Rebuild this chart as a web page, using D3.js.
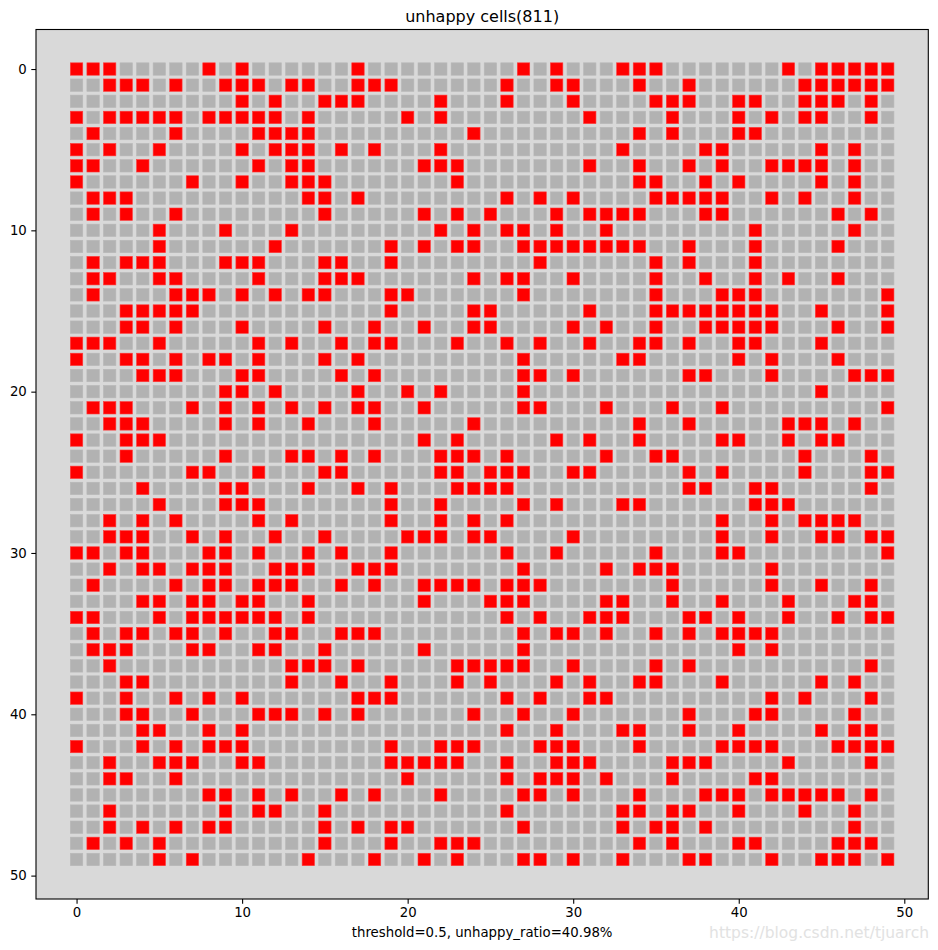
<!DOCTYPE html>
<html>
<head>
<meta charset="utf-8">
<script src="https://cdn.jsdelivr.net/npm/d3@7"></script>
<style>
  html, body { margin: 0; padding: 0; background: #fff; }
  svg text { font-family: "DejaVu Sans", sans-serif; }
</style>
</head>
<body>
<div id="chart"></div>
<script>
// ---- data ----
const gridSize = 50;
const titleText = "unhappy cells(811)";
const xLabelText = "threshold=0.5, unhappy_ratio=40.98%";
const tickValues = [0, 10, 20, 30, 40, 50];
// column indices of unhappy (red) cells, one list per row (row 0 at top)
const unhappyRows = [
  [0,1,2,8,10,17,27,29,33,34,35,43,45,46,47,48,49],
  [2,3,4,6,9,10,11,13,14,17,18,19,26,29,30,34,37,44,45,46,47,48,49],
  [10,12,15,16,17,22,26,30,35,36,37,40,41,44,45,46,48],
  [0,2,3,4,5,6,8,9,10,11,12,14,20,22,31,36,40,42,44,45,48],
  [1,6,11,12,13,14,24,34,36,40,41],
  [0,2,5,10,12,13,14,16,18,22,33,38,39,45,47],
  [0,1,4,11,13,14,21,22,23,31,34,37,39,42,43,44,45,47],
  [0,7,10,13,14,15,23,34,35,38,40,45,47],
  [1,2,3,14,15,17,26,28,30,35,36,37,38,39,42,44,47],
  [1,3,6,15,21,23,25,29,31,32,33,34,38,39,46,48],
  [5,9,13,22,24,26,27,29,32,41,47],
  [5,12,19,21,23,24,27,28,29,30,31,32,33,34,37,41,46],
  [1,3,4,5,9,10,11,15,16,19,28,35,37,41],
  [1,2,5,6,11,15,16,17,24,26,27,30,35,38,41,43,46],
  [1,6,7,8,10,12,14,15,19,20,27,35,39,40,41,49],
  [3,4,5,6,7,19,24,25,31,35,36,37,38,39,40,41,42,45,49],
  [3,4,6,10,15,18,21,24,25,30,32,35,38,39,40,41,42,46,49],
  [0,1,2,5,11,13,16,18,19,23,26,28,31,34,35,37,40,41,45],
  [0,3,4,6,8,9,11,15,17,27,33,34,40,42,46],
  [4,5,6,10,11,16,18,27,28,30,37,38,42,47,48,49],
  [9,10,12,17,20,22,27,45],
  [1,2,3,7,9,11,13,15,17,18,21,27,28,32,36,39,49],
  [2,3,4,9,11,14,18,24,34,37,43,44,45,47],
  [0,3,4,5,21,23,29,31,34,39,40,43,45,46],
  [3,9,13,14,16,18,22,23,24,26,32,35,36,44,48],
  [0,7,8,11,15,16,22,23,25,26,27,30,31,37,39,44,48,49],
  [4,9,10,14,17,19,23,24,25,26,37,38,41,42,48],
  [5,9,10,11,19,22,27,29,33,34,41,42,43],
  [2,4,6,11,13,19,22,24,26,39,42,44,45,46,47],
  [2,3,4,7,9,12,15,20,21,22,24,25,30,39,42,45,46,48,49],
  [0,1,3,4,8,9,11,14,16,19,26,29,35,39,40,49],
  [2,4,5,7,8,9,12,13,14,17,18,19,27,32,34,35,36,42],
  [1,6,8,9,11,12,13,16,18,21,22,23,24,26,27,28,36,42,45,48],
  [4,5,7,8,10,11,14,21,25,26,27,32,33,36,39,43,47,48],
  [0,1,5,7,8,9,10,11,12,14,26,28,31,32,33,37,38,40,43,46,48,49],
  [1,3,4,6,7,9,12,13,16,17,18,27,29,30,32,35,37,39,40,41,42],
  [1,2,3,7,8,11,12,15,21,27,40,42],
  [2,13,14,15,17,23,24,25,26,27,30,35,37,48],
  [3,4,13,16,19,23,25,29,31,34,35,39,45,47],
  [0,3,6,8,10,17,18,19,26,28,31,32,42,44,48],
  [3,4,7,11,12,13,15,17,24,27,30,37,41,42,47],
  [4,5,8,10,26,29,33,34,37,40,45,47,48],
  [0,4,6,8,9,10,19,22,23,24,28,29,30,34,39,40,41,42,46,47,48,49],
  [2,5,6,7,10,11,19,20,21,22,23,26,29,30,31,36,37,38,43,48],
  [2,3,6,20,26,28,29,30,32,36,41,42],
  [8,9,11,13,16,18,22,27,28,30,34,38,39,40,42,43,44,45,46,48],
  [2,9,11,12,15,26,33,34,36,37,40,44,47],
  [2,4,6,8,9,15,17,19,20,27,33,35,36,38,47],
  [1,3,5,15,19,22,23,24,34,36,40,41,46,47,48],
  [5,7,14,18,21,23,27,28,30,33,37,38,42,45,46,47,49]
];

(function () {
  // ---- build cells ----
  const cells = [];
  unhappyRows.forEach((cols, r) => {
    const set = new Set(cols);
    for (let c = 0; c < gridSize; c++) cells.push({ row: r, col: c, unhappy: set.has(c) });
  });

  // ---- drawing ----
  const W = 938, H = 950;
  const pLeft = 36, pRight = 928.3, pTop = 29.5, pBottom = 899;
  const svg = d3.select("#chart").append("svg").attr("width", W).attr("height", H);

  const x = d3.scaleLinear().domain([-2.45, 51.45]).range([pLeft, pRight]);
  const y = d3.scaleLinear().domain([-2.45, 51.45]).range([pTop, pBottom]);

  svg.append("rect").attr("x", pLeft).attr("y", pTop)
    .attr("width", pRight - pLeft).attr("height", pBottom - pTop)
    .attr("fill", "#d9d9d9");

  const s = 12.4;
  svg.append("g").selectAll("rect").data(cells).join("rect")
    .attr("x", d => x(d.col) - s / 2)
    .attr("y", d => y(d.row) - s / 2)
    .attr("width", s).attr("height", s)
    .attr("fill", d => d.unhappy ? "#ff0000" : "#b2b2b2")
    .attr("stroke", d => d.unhappy ? "#ff3a3a" : "#b8b8b8")
    .attr("stroke-width", 0.6);

  svg.append("rect").attr("x", pLeft).attr("y", pTop)
    .attr("width", pRight - pLeft).attr("height", pBottom - pTop)
    .attr("fill", "none").attr("stroke", "#000").attr("stroke-width", 1.1);

  const xAxis = svg.append("g").attr("transform", `translate(0,${pBottom})`)
    .call(d3.axisBottom(x).tickValues(tickValues).tickSize(4.7).tickPadding(4.2).tickSizeOuter(0));
  const yAxis = svg.append("g").attr("transform", `translate(${pLeft},0)`)
    .call(d3.axisLeft(y).tickValues(tickValues).tickSize(4.7).tickPadding(4.5).tickSizeOuter(0));
  [xAxis, yAxis].forEach(g => {
    g.select(".domain").remove();
    g.selectAll("text").attr("font-size", "13.3px").attr("font-family", "DejaVu Sans").attr("fill", "#000");
    g.selectAll("line").attr("stroke", "#000").attr("stroke-width", 1.1);
  });

  svg.append("text").attr("x", (pLeft + pRight) / 2).attr("y", 22)
    .attr("text-anchor", "middle").attr("font-size", "16px").attr("fill", "#000")
    .text(titleText);

  svg.append("text").attr("x", (pLeft + pRight) / 2).attr("y", 937)
    .attr("text-anchor", "middle").attr("font-size", "13.3px").attr("fill", "#000")
    .text(xLabelText);

  svg.append("text").attr("x", 929).attr("y", 938)
    .attr("text-anchor", "end").attr("font-size", "15.5px").attr("fill", "#e2e2e2")
    .text("https://blog.csdn.net/tjuarch");
})();
</script>
</body>
</html>
